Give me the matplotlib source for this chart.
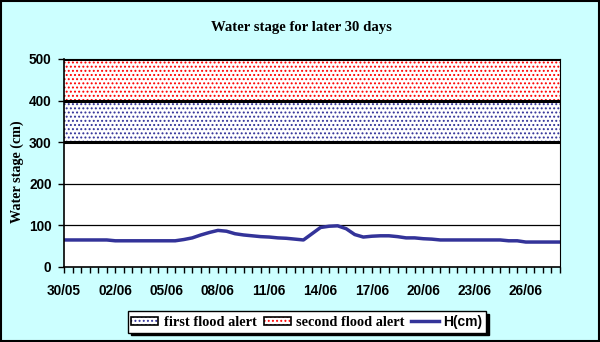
import numpy as np
import matplotlib.pyplot as plt
from matplotlib.patches import Patch
from matplotlib.lines import Line2D
from matplotlib.legend_handler import HandlerTuple

# Water stage readings, every 12 hours from 30/05 (cm)
stage = [65, 65, 65, 65, 65, 65, 63, 63, 63, 63, 63, 63, 63, 63, 66, 70,
         77, 83, 88, 86, 80, 77, 75, 73, 72, 70, 69, 67, 65, 80, 95, 98,
         99, 92, 78, 72, 74, 75, 75, 73, 70, 70, 68, 67, 65, 65, 65, 65,
         65, 65, 65, 65, 63, 63, 60, 60, 60, 60, 60]
days = np.arange(len(stage)) * 0.5
tick_labels = ['30/05', '02/06', '05/06', '08/06', '11/06', '14/06',
               '17/06', '20/06', '23/06', '26/06']
first_alert = (300, 400)
second_alert = (400, 500)

bg = '#ccffff'
navy = '#333399'
plt.rcParams['hatch.linewidth'] = 0.9

fig = plt.figure(figsize=(6, 3.42), dpi=100, facecolor=bg)
fig.patches.append(plt.Rectangle((0.0015, 0.0025), 0.997, 0.995, transform=fig.transFigure,
                                 fill=False, edgecolor='black', linewidth=1.5))
ax = fig.add_axes([64/600, 1-267/342, 496/600, 208/342])
ax.set_facecolor('white')

ax.fill_between([0, 29], *first_alert, facecolor='white', edgecolor=navy,
                hatch='....', linewidth=0)
ax.fill_between([0, 29], *second_alert, facecolor='white', edgecolor='red',
                hatch='....', linewidth=0)
for y in [100, 200]:
    ax.axhline(y, color='black', linewidth=0.9)
for y in [300, 400, 500]:
    ax.axhline(y, color='black', linewidth=2.2)

ax.plot(days, stage, color=navy, linewidth=2.5, solid_joinstyle='round')

ax.set_xlim(0, 29)
ax.set_ylim(0, 500)
ax.set_yticks(range(0, 501, 100))
ax.set_xticks(np.arange(0, 29.01, 0.5), minor=True)
ax.set_xticks(np.arange(0, 28, 3))
ax.set_xticklabels(tick_labels)
ax.tick_params(which='both', direction='out', length=4, width=1, color='black')
ax.tick_params(axis='x', pad=8)
ax.tick_params(axis='y', pad=5)
for lab in ax.get_xticklabels() + ax.get_yticklabels():
    lab.set_fontfamily('Liberation Sans')
    lab.set_fontweight('bold')
    lab.set_fontsize(9.8)

for side in ['top', 'right']:
    ax.spines[side].set_linewidth(0.8)
ax.spines['left'].set_linewidth(1.2)
ax.spines['bottom'].set_linewidth(1.2)

fig.text(301/600, 1-27/342, 'Water stage for later 30 days', ha='center', va='center',
         family='Liberation Serif', fontweight='bold', fontsize=10.6)
fig.text(17/600, 1-172/342, 'Water stage (cm)', ha='center', va='center', rotation=90,
         family='Liberation Serif', fontweight='bold', fontsize=10.2)

def alert_handle(color):
    return (Patch(facecolor='white', edgecolor=color, hatch='....', linewidth=0),
            Patch(facecolor='none', edgecolor='black', linewidth=1.2))

handles = [alert_handle(navy), alert_handle('red'),
           Line2D([], [], color=navy, linewidth=2.5)]
leg = fig.legend(handles, ['first flood alert', 'second flood alert', 'H(cm)'],
                 handler_map={tuple: HandlerTuple(ndivide=1)},
                 loc='center', bbox_to_anchor=(307/600, 1-322/342), ncol=3,
                 frameon=True, fancybox=False, shadow={'color': 'black', 'alpha': 1, 'ox': 2, 'oy': -2},
                 edgecolor='black', framealpha=1, borderpad=0.25, borderaxespad=0,
                 handlelength=1.9, handleheight=0.5, handletextpad=0.35, columnspacing=0.5,
                 prop={'family': 'Liberation Serif', 'weight': 'bold', 'size': 10.3})
leg.get_frame().set_linewidth(1.0)
leg.get_texts()[2].set_fontfamily('Liberation Sans')
leg.get_texts()[2].set_fontsize(10)

fig.savefig('out.png', dpi=100, facecolor=bg)
